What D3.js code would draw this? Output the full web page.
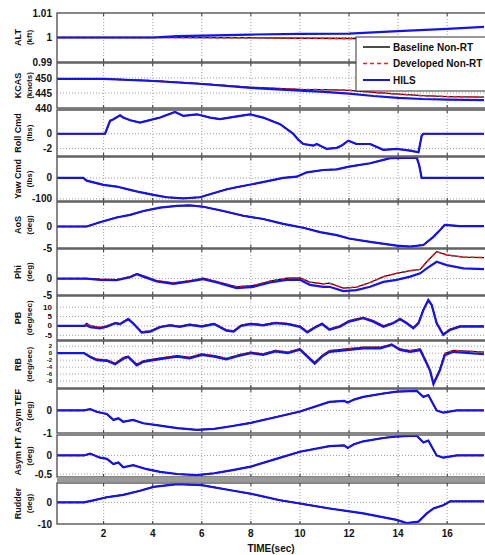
<!DOCTYPE html>
<html>
<head>
<meta charset="utf-8">
<script src="https://cdn.jsdelivr.net/npm/d3@7"></script>
<style>
  body { margin: 0; background: #fff; }
  text { font-family: Arial, "Liberation Sans", sans-serif; font-weight: bold; fill: #111; }
</style>
</head>
<body>
<div id="chart"></div>
<script>
// ---- data (time in sec) ----
const xTicks = [2, 4, 6, 8, 10, 12, 14, 16];

const altT = [0, 4, 5, 8, 10, 12, 14, 16, 17.5];
const altHils = [1.0, 1.0, 1.0006, 1.0012, 1.0015, 1.0016, 1.0026, 1.0035, 1.0043];
const altNonRT = [1.0, 1.0, 1.0, 0.9999, 0.9997, 0.9996, 0.9995, 0.9995, 0.9995];

const kcasT = [0, 2, 4, 6, 8, 10, 11, 12, 13, 14, 15, 16, 17.5];
const kcasHils = [449.7, 449.7, 449.0, 448.0, 446.7, 445.8, 445.4, 444.8, 444.0, 443.4, 443.0, 442.8, 442.6];
const kcasNonRT = [449.8, 449.7, 449.1, 448.1, 446.9, 446.2, 446.1, 445.9, 445.2, 444.6, 444.1, 443.8, 443.6];

const rollT = [0, 2.06, 2.26, 2.4, 2.67, 2.8, 3.08, 3.48, 3.76, 4.3, 4.91, 5.25, 5.8, 6.34, 6.74, 7.56, 7.97, 8.5, 9.19, 9.73, 9.93, 10.14, 10.55, 10.68, 11.09, 11.5, 11.7, 11.97, 12.3, 12.86, 13.4, 13.94, 14.49, 14.83, 14.96, 15.03, 17.5];
const rollHils = [0, 0, 1.73, 1.96, 2.49, 2.18, 1.82, 1.51, 1.73, 2.18, 2.93, 2.4, 2.62, 2.18, 1.96, 2.4, 2.62, 2.18, 1.29, 0, -0.8, -1.38, -1.6, -1.38, -2.04, -1.9, -1.6, -0.93, -1.38, -1.38, -2.17, -2.04, -2.27, -2.49, -0.27, 0, 0];

const yawT = [0, 1.17, 1.31, 1.99, 2.53, 3.08, 3.48, 4.03, 4.57, 5.25, 5.93, 6.47, 7.02, 7.56, 8.1, 8.78, 9.32, 9.87, 10.28, 10.95, 11.5, 12.0, 12.86, 13.4, 13.67, 14.76, 14.86, 14.96, 17.5];
const yawHils = [0, 0, -13, -33, -41, -57, -68, -81, -92, -97, -92, -73, -54, -41, -29, -13, 0, 6, 27, 38, 41, 54, 70, 86, 94, 97, 60, 0, 0];

const aosT = [0, 1.31, 1.85, 2.53, 3.08, 3.62, 4.3, 4.98, 5.52, 6.06, 6.88, 7.69, 8.5, 9.32, 10.14, 10.82, 11.5, 12.0, 12.86, 13.94, 14.49, 15.03, 15.44, 15.7, 15.9, 16.5, 17.5];
const aosHils = [0, 0, 1.0, 2.1, 2.7, 3.6, 4.4, 4.8, 4.9, 4.6, 3.6, 2.5, 1.75, 0.6, -0.3, -1.3, -2.0, -2.8, -3.56, -4.46, -4.7, -4.3, -2.4, -0.9, 0.4, 0.1, 0.1];

const phiT = [0, 1.31, 1.85, 2.53, 3.08, 3.35, 3.62, 4.16, 4.84, 5.52, 6.06, 6.61, 7.42, 8.1, 8.78, 9.46, 10.0, 10.41, 10.95, 11.2, 11.77, 12.3, 12.86, 13.4, 13.94, 14.49, 14.9, 15.17, 15.57, 15.98, 16.66, 17.5];
const phiHils = [0, 0, -0.4, -0.5, 0.4, 1.3, 0.6, -0.9, -1.6, -0.9, -0.2, -1.2, -2.9, -2.5, -1.2, -0.4, -0.4, -1.9, -2.5, -2.5, -3.8, -3.5, -2.5, -1.0, -0.4, 0.6, 1.6, 3.1, 5.1, 4.1, 3.1, 2.9];
const phiNonRT = [0, 0, -0.2, -0.3, 0.6, 1.5, 0.8, -0.6, -1.3, -0.6, 0.1, -0.9, -2.5, -2.1, -0.8, 0.1, 0.2, -1.1, -1.6, -1.4, -2.9, -2.6, -1.2, 0.6, 1.6, 2.4, 2.8, 5.1, 8.2, 7.2, 6.5, 6.4];

const pbT = [0, 1.2, 1.31, 1.45, 1.85, 2.13, 2.47, 2.67, 3.0, 3.2, 3.55, 3.9, 4.3, 4.7, 5.1, 5.5, 6.0, 6.5, 7.0, 7.3, 7.6, 8.0, 8.5, 9.0, 9.5, 10.0, 10.3, 10.6, 10.9, 11.2, 11.63, 12.0, 12.58, 12.99, 13.4, 13.8, 14.08, 14.35, 14.62, 14.83, 15.03, 15.23, 15.37, 15.57, 15.84, 16.12, 16.52, 17.5];
const pbHils = [0, 0, 0.3, -0.7, -1.3, -0.4, 1.4, 1.0, 3.6, 1.4, -3.6, -3.0, -0.7, 0.3, -0.5, 0.6, -0.3, 1.0, -2.5, -3.0, 0.0, 1.0, 0.3, 1.5, 1.0, -0.5, -3.5, -1.0, 1.0, -2.1, -0.4, 2.3, 4.1, 2.3, -0.4, 1.4, 3.6, 1.4, -1.2, 1.4, 8.5, 13.9, 11.2, 1.4, -4.8, -2.1, -0.4, -0.4];
const pbNonRT = [0, 0, 1.4, 0.2, -0.8, 0.0, 1.8, 1.2, 3.9, 1.6, -3.2, -2.6, -0.3, 0.6, -0.2, 0.9, 0.0, 1.3, -2.1, -2.6, 0.4, 1.4, 0.6, 1.9, 1.3, -0.1, -3.0, -0.6, 1.4, -1.6, 0.1, 2.8, 4.6, 2.8, 0.1, 1.8, 4.0, 1.8, -0.8, 1.8, 8.8, 13.6, 11.0, 1.8, -4.3, -1.7, 0.0, 0.0];

const rbT = [0, 1.2, 1.45, 1.72, 2.13, 2.47, 2.8, 3.0, 3.35, 3.62, 4.03, 4.5, 5.0, 5.5, 6.0, 6.5, 7.0, 7.5, 8.0, 8.5, 9.0, 9.5, 10.0, 10.3, 10.6, 10.9, 11.2, 11.9, 12.58, 13.27, 13.74, 14.08, 14.49, 14.9, 15.1, 15.3, 15.44, 15.7, 15.9, 16.25, 17.5];
const rbHils = [0, 0, -1.1, -2.0, -2.2, -3.2, -1.6, -1.1, -3.5, -2.5, -2.0, -1.5, -1.0, -1.5, -0.5, -1.0, -1.8, -0.8, 0.0, -0.5, 0.5, 0.0, 1.0, -1.0, -3.0, -1.0, 0.4, 0.9, 1.4, 1.4, 2.4, 0.9, 0.4, 0.9, -2.0, -5.0, -8.9, -5.0, -0.6, 0.4, -0.3];
const rbNonRT = [0, 0, -0.9, -1.7, -1.9, -2.9, -1.3, -0.9, -3.2, -2.2, -1.7, -1.2, -0.7, -1.2, -0.2, -0.7, -1.5, -0.5, 0.3, -0.2, 0.8, 0.3, 1.3, -0.7, -2.7, -0.7, 0.7, 1.2, 1.7, 1.7, 2.6, 1.2, 0.7, 1.2, -1.7, -4.8, -8.6, -4.6, -0.1, 0.8, 0.3];

const tefT = [0, 1.2, 1.45, 1.72, 2.13, 2.4, 2.6, 2.8, 3.2, 3.62, 4.16, 5.0, 5.8, 6.5, 7.2, 8.0, 9.0, 10.0, 11.2, 11.8, 11.95, 12.2, 12.58, 13.4, 13.94, 14.76, 15.03, 15.23, 15.57, 15.84, 16.39, 17.5];
const tefHils = [0, 0, 0.06, -0.06, -0.16, -0.42, -0.35, -0.5, -0.42, -0.57, -0.65, -0.78, -0.86, -0.82, -0.7, -0.55, -0.3, -0.05, 0.38, 0.42, 0.35, 0.48, 0.6, 0.75, 0.83, 0.87, 0.6, 0.68, 0.0, -0.1, 0.0, 0.0];

const htT = [0, 1.2, 1.45, 1.85, 2.13, 2.4, 2.6, 2.8, 3.2, 3.76, 4.3, 5.0, 5.8, 6.5, 7.2, 8.0, 9.0, 10.0, 11.2, 11.8, 11.95, 12.2, 12.58, 13.4, 13.94, 14.76, 15.03, 15.23, 15.57, 15.84, 16.39, 17.5];
const htHils = [0, 0, 0.05, -0.06, -0.09, -0.23, -0.19, -0.32, -0.26, -0.37, -0.44, -0.5, -0.53, -0.48, -0.4, -0.3, -0.1, 0.1, 0.25, 0.27, 0.2, 0.3, 0.38, 0.47, 0.51, 0.53, 0.35, 0.4, 0.0, -0.06, 0.0, 0.0];

const rudT = [0, 1.2, 1.58, 2.13, 2.8, 3.48, 4.03, 5.0, 6.0, 7.0, 8.0, 9.19, 10.0, 11.2, 12.58, 13.94, 14.35, 14.83, 15.17, 15.44, 15.84, 16.12, 17.5];
const rudHils = [0, 0, 0.95, 2.4, 3.5, 5.4, 7.2, 8.5, 8.0, 6.0, 4.0, 1.0, -0.5, -2.8, -5.1, -8.1, -9.6, -8.9, -5.1, -2.8, -1.3, 0.5, 0.5];

const legendNames = ["Baseline Non-RT", "Developed Non-RT", "HILS"];

// ---- panel table for drawing ----
const panels = [
  { name: ["ALT", "(kft)"], domain: [0.99, 1.01], ticks: [1.01, 1, 0.99], grid: [1], t: altT, base: altNonRT, dev: altNonRT, hils: altHils },
  { name: ["KCAS", "(knots)"], domain: [440, 455], ticks: [450, 445, 440], grid: [450, 445], t: kcasT, base: kcasNonRT, dev: kcasNonRT, hils: kcasHils },
  { name: ["Roll Cmd", "(lbs)"], domain: [-3, 3.2], ticks: [0, -2], grid: [0, -2], t: rollT, base: rollHils, dev: rollHils, hils: rollHils },
  { name: ["Yaw Cmd", "(lbs)"], domain: [-110, 100], ticks: [0, -100], grid: [0, -100], t: yawT, base: yawHils, dev: yawHils, hils: yawHils },
  { name: ["AoS", "(deg)"], domain: [-5, 5.7], ticks: [0, -5], grid: [0], t: aosT, base: aosHils, dev: aosHils, hils: aosHils },
  { name: ["Phi", "(deg)"], domain: [-5, 9], ticks: [0, -5], grid: [0], t: phiT, base: phiNonRT, dev: phiNonRT, hils: phiHils },
  { name: ["PB", "(deg/sec)"], domain: [-7.5, 16], ticks: [10, 5, 0, -5], grid: [10, 5, 0, -5], t: pbT, base: pbNonRT, dev: pbNonRT, hils: pbHils, fs: 8 },
  { name: ["RB", "(deg/sec)"], domain: [-10, 3.5], ticks: [2, 0, -2, -4, -6, -8], grid: [2, 0, -2, -4, -6, -8], t: rbT, base: rbNonRT, dev: rbNonRT, hils: rbHils, fs: 6 },
  { name: ["Asym TEF", "(deg)"], domain: [-1, 0.95], ticks: [0, -1], grid: [0], t: tefT, base: tefHils, dev: tefHils, hils: tefHils },
  { name: ["Asym HT", "(deg)"], domain: [-0.58, 0.55], ticks: [0, -0.5], grid: [0, -0.5], t: htT, base: htHils, dev: htHils, hils: htHils },
  { name: ["Rudder", "(deg)"], domain: [-10, 9], ticks: [0, -10], grid: [0], t: rudT, base: rudHils, dev: rudHils, hils: rudHils }
];
// vertical pixel extent of each panel [bottom, top]
const panelBox = [[62, 13], [108, 63], [156, 110], [201, 157], [248, 202], [295, 249], [340, 296], [388, 341], [433, 389], [477, 435], [524, 483]];

const W = 485, H = 555;
const left = 57, right = 486;

const svg = d3.select("#chart").append("svg")
  .attr("width", W).attr("height", H);

const x = d3.scaleLinear().domain([0.1, 17.5]).range([left, left + 427]);

const colors = { base: "#111", dev: "#ff1a1a", hils: "#1414e6" };

panels.forEach((p, i) => {
  const [y0, y1] = panelBox[i];
  const y = d3.scaleLinear().domain(p.domain).range([y0, y1]);
  const g = svg.append("g");

  g.append("clipPath").attr("id", "clip" + i)
    .append("rect").attr("x", left).attr("y", y1).attr("width", right - left).attr("height", y0 - y1);

  // dotted grid
  g.selectAll(".vg").data(xTicks).join("line")
    .attr("x1", d => x(d)).attr("x2", d => x(d)).attr("y1", y1).attr("y2", y0)
    .attr("stroke", "#888").attr("stroke-width", 0.8).attr("stroke-dasharray", "1,2");
  g.selectAll(".hg").data(p.grid).join("line")
    .attr("x1", left).attr("x2", right).attr("y1", d => y(d)).attr("y2", d => y(d))
    .attr("stroke", "#888").attr("stroke-width", 0.8).attr("stroke-dasharray", "1,2");

  // inward tick marks
  g.selectAll(".tt").data(xTicks).join("line")
    .attr("x1", d => x(d)).attr("x2", d => x(d)).attr("y1", y1).attr("y2", y1 + 3)
    .attr("stroke", "#333");
  g.selectAll(".tb").data(xTicks).join("line")
    .attr("x1", d => x(d)).attr("x2", d => x(d)).attr("y1", y0).attr("y2", y0 - 3)
    .attr("stroke", "#333");

  const line = d3.line().x((d, j) => x(p.t[j])).y(d => y(d));
  const lines = g.append("g").attr("clip-path", `url(#clip${i})`).attr("fill", "none");
  lines.append("path").attr("d", line(p.base)).attr("stroke", colors.base).attr("stroke-width", 1.3);
  lines.append("path").attr("d", line(p.dev)).attr("stroke", colors.dev).attr("stroke-width", 1.5).attr("stroke-dasharray", "4,3");
  lines.append("path").attr("d", line(p.hils)).attr("stroke", colors.hils).attr("stroke-width", 2.2);

  g.append("rect").attr("x", left).attr("y", y1).attr("width", right - left).attr("height", y0 - y1)
    .attr("fill", "none").attr("stroke", "#555").attr("stroke-width", 1.4);

  // y tick labels
  g.selectAll(".yl").data(p.ticks).join("text")
    .attr("x", 52).attr("y", d => y(d))
    .attr("text-anchor", "end").attr("dominant-baseline", "central")
    .style("font-size", (p.fs || 10) + "px")
    .text(d => String(d));

  // two-line y label
  const cy = (y0 + y1) / 2;
  g.append("text").attr("transform", `translate(18,${cy}) rotate(-90)`)
    .attr("text-anchor", "middle").attr("dominant-baseline", "central")
    .style("font-size", "9px").text(p.name[0]);
  g.append("text").attr("transform", `translate(29,${cy}) rotate(-90)`)
    .attr("text-anchor", "middle").attr("dominant-baseline", "central")
    .style("font-size", "8px").text(p.name[1]);
});

// thick gray separators
svg.append("rect").attr("x", left).attr("y", 108).attr("width", right - left).attr("height", 2.5).attr("fill", "#777");
svg.append("rect").attr("x", left).attr("y", 477).attr("width", right - left).attr("height", 5).attr("fill", "#999");

// x tick labels
svg.selectAll(".xl").data(xTicks).join("text")
  .attr("x", d => x(d)).attr("y", 537)
  .attr("text-anchor", "middle").style("font-size", "10px")
  .text(d => d);
svg.append("text").attr("x", 271).attr("y", 552).attr("text-anchor", "middle")
  .style("font-size", "10px").text("TIME(sec)");

// legend
const lg = svg.append("g");
lg.append("rect").attr("x", 356).attr("y", 37).attr("width", 135).attr("height", 54)
  .attr("fill", "#fff").attr("stroke", "#333");
const lStyle = [
  { c: colors.base, w: 1.5, dash: null },
  { c: colors.dev, w: 1.5, dash: "4,3" },
  { c: colors.hils, w: 2, dash: null }
];
legendNames.forEach((n, k) => {
  const ly = 47 + k * 16.5;
  lg.append("line").attr("x1", 363).attr("x2", 390).attr("y1", ly).attr("y2", ly)
    .attr("stroke", lStyle[k].c).attr("stroke-width", lStyle[k].w)
    .attr("stroke-dasharray", lStyle[k].dash);
  lg.append("text").attr("x", 393).attr("y", ly).attr("dominant-baseline", "central")
    .style("font-size", "10px").text(n);
});
</script>
</body>
</html>
